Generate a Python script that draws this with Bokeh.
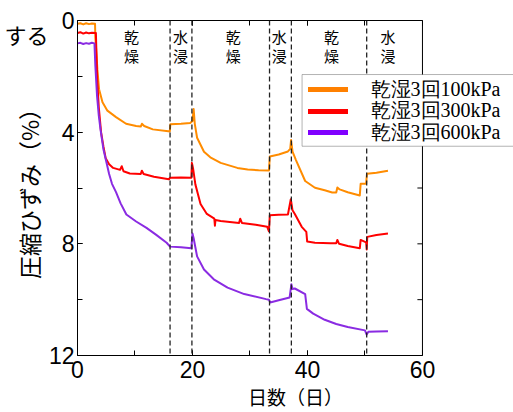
from bokeh.plotting import figure
from bokeh.models import (Range1d, LinearAxis, SingleIntervalTicker, FixedTicker, Span,
                          Legend, LegendItem, CustomJSTickFormatter, BoxAnnotation)
from bokeh.core.properties import value
from bokeh.embed import file_html
from bokeh.resources import INLINE

# ---------------- data ----------------
series_labels = ["乾湿3回100kPa", "乾湿3回300kPa", "乾湿3回600kPa"]

days_100 = [0, 0.5, 1.0, 1.5, 2.0, 2.5, 3.05, 3.1, 3.3, 3.46, 3.75, 4.35, 5.2, 6.7, 8.45,
            10.2, 11.0, 11.2, 11.6, 13.1, 15.8, 16.05, 16.15, 18.0, 19.6, 20.0, 20.2, 20.4,
            20.8, 22.0, 23.1, 24.9, 27.8, 29.6, 31.5, 33.3, 33.45, 35.0, 36.6, 37.0, 37.15,
            37.4, 38.0, 39.6, 41.3, 43.0, 44.3, 45.0, 45.2, 45.6, 47.0, 49.1, 49.25, 50.2,
            50.35, 52.0, 54.0]
strain_100 = [0.12, 0.1, 0.14, 0.1, 0.13, 0.11, 0.12, 0.6, 1.2, 1.76, 2.46, 2.93, 3.23, 3.46,
              3.7, 3.78, 3.8, 3.7, 3.78, 3.9, 3.97, 3.98, 3.72, 3.7, 3.67, 3.6, 3.17, 3.7,
              4.2, 4.7, 4.9, 5.1, 5.28, 5.34, 5.36, 5.37, 4.87, 4.8, 4.69, 4.6, 4.28, 4.7,
              5.0, 5.75, 5.99, 6.08, 6.16, 6.16, 5.98, 6.05, 6.15, 6.27, 5.85, 5.85, 5.49,
              5.45, 5.38]

days_300 = [0, 0.5, 1.0, 1.5, 2.0, 2.5, 3.2, 3.3, 3.45, 3.7, 4.1, 4.5, 4.9, 5.5, 6.2, 7.4,
            7.7, 8.0, 9.1, 11.0, 11.2, 11.5, 13.3, 15.9, 16.1, 18.0, 19.8, 19.9, 20.1, 20.5,
            21.4, 22.5, 23.8, 23.9, 24.0, 24.9, 28.1, 28.3, 28.6, 31.0, 33.0, 33.3, 33.45,
            35.0, 36.6, 37.1, 37.4, 37.8, 39.0, 39.8, 39.95, 41.3, 44.0, 45.0, 45.2, 45.5,
            47.0, 49.1, 49.25, 50.2, 50.3, 50.4, 52.0, 54.0]
strain_300 = [0.45, 0.42, 0.47, 0.43, 0.46, 0.44, 0.45, 1.2, 2.2, 3.1, 4.0, 4.5, 4.93, 5.15,
              5.28, 5.35, 5.22, 5.4, 5.48, 5.5, 5.38, 5.5, 5.6, 5.69, 5.63, 5.62, 5.63, 5.1,
              5.3, 5.87, 6.57, 6.93, 7.1, 7.35, 7.15, 7.18, 7.25, 7.1, 7.25, 7.32, 7.39, 7.55,
              6.98, 6.96, 6.95, 6.4, 6.8, 6.93, 7.39, 7.57, 7.92, 7.96, 7.98, 7.98, 7.86,
              8.0, 8.08, 8.16, 7.86, 7.95, 8.2, 7.75, 7.68, 7.63]

days_600 = [0, 0.5, 1.0, 1.5, 2.0, 2.5, 2.95, 3.1, 3.4, 3.7, 4.0, 4.5, 5.0, 5.5, 6.0, 6.7,
            7.5, 8.5, 10.2, 12.0, 13.7, 15.5, 16.1, 18.0, 19.8, 20.0, 20.2, 20.8, 22.0, 23.7,
            26.1, 29.0, 32.8, 33.3, 33.5, 35.0, 36.9, 37.2, 37.4, 37.8, 39.6, 39.9, 41.0,
            43.0, 45.0, 47.0, 50.0, 50.3, 50.6, 52.0, 54.0]
strain_600 = [0.82, 0.8, 0.84, 0.81, 0.83, 0.8, 0.82, 1.6, 2.7, 3.4, 3.9, 4.6, 5.05, 5.5,
              5.85, 6.15, 6.55, 6.95, 7.2, 7.43, 7.68, 7.96, 8.1, 8.12, 8.16, 7.63, 7.8, 8.45,
              8.92, 9.27, 9.57, 9.8, 9.98, 10.0, 10.1, 10.02, 9.92, 9.45, 9.62, 9.6, 9.8,
              10.33, 10.5, 10.72, 10.87, 10.98, 11.1, 11.25, 11.15, 11.14, 11.13]

phase_boundaries = [16.1, 19.9, 33.4, 37.2, 50.3]
phase_label_x = [9.4, 17.9, 27.1, 35.1, 44.2, 54.0]
phase_top_chars = ["乾", "水", "乾", "水", "乾", "水"]
phase_bottom_chars = ["燥", "浸", "燥", "浸", "燥", "浸"]

x_label = "日数（日）"
y_label = "圧縮ひずみ（%）"
page_fragment = "する"   # piece of the surrounding document text, left of the chart
x_max = 60
y_max = 12
y_tick_values = [2, 4, 6, 8, 10]

line_colors = ["#FF8C00", "#FF0000", "#8A2BE2"]
legend_colors = ["#FF8000", "#FF0000", "#8000FF"]

# ---------------- layout constants (pixels) ----------------
W, H = 513, 412
frame_left, frame_right_axis, frame_top, frame_bottom = 82, 423, 20, 361
left_extra = 5          # the rendered frame sat ~5px right of min_border_left
px_per_day = (frame_right_axis - frame_left) / x_max
px_per_unit = (frame_bottom - frame_top) / y_max
x_end = (W - frame_left) / px_per_day  # frame runs to the window edge (legend is cut there)
tick_len = 5 / px_per_day
fragment_y = (33.5 - frame_top) / px_per_unit
legend_box_left, legend_box_top, legend_box_bottom = 304, 75, 148
legend_item_centers = [95, 116.5, 138]
legend_glyph_left = 312.5
legend_item_h = 30

p = figure(width=W, height=H, output_backend="svg", toolbar_location=None,
           x_range=Range1d(0, x_end), y_range=Range1d(y_max, 0),
           min_border_left=frame_left - left_extra, min_border_right=0,
           min_border_top=frame_top, min_border_bottom=H - frame_bottom)
p.background_fill_color = "white"
p.border_fill_color = "white"
p.outline_line_color = None
p.xgrid.visible = False
p.ygrid.visible = False

tick_font = "Liberation Sans"
cjk_font = "Noto Sans CJK JP"

xa = p.xaxis[0]
xa.ticker = SingleIntervalTicker(interval=20, num_minor_ticks=2)
xa.bounds = (0, x_max)
ya = p.yaxis[0]
ya.ticker = SingleIntervalTicker(interval=4, num_minor_ticks=2)
for ax in (xa, ya):
    ax.axis_line_color = "black"
    ax.major_tick_in = 5
    ax.major_tick_out = 0
    ax.minor_tick_in = 5
    ax.minor_tick_out = 0
    ax.major_tick_line_color = "black"
    ax.minor_tick_line_color = "black"
    ax.major_label_text_font = tick_font
    ax.major_label_text_font_size = "23px"
    ax.major_label_text_color = "black"
xa.major_label_standoff = 5
xa.axis_label = x_label
xa.axis_label_text_font = cjk_font
xa.axis_label_text_font_style = "normal"
xa.axis_label_text_color = "black"
xa.axis_label_text_font_size = "19px"
xa.axis_label_standoff = 2
ya.major_label_standoff = 3

# outer left axis: carries the y title and the page fragment "する"
ya2 = LinearAxis(ticker=FixedTicker(ticks=[fragment_y], minor_ticks=[]),
                 formatter=CustomJSTickFormatter(code="return '%s'" % page_fragment))
ya2.axis_line_color = None
ya2.major_tick_in = 0
ya2.major_tick_out = 0
ya2.minor_tick_in = 0
ya2.minor_tick_out = 0
ya2.major_label_standoff = -3
ya2.major_label_text_font = cjk_font
ya2.major_label_text_font_size = "22px"
ya2.major_label_text_color = "black"
ya2.axis_label = y_label
ya2.axis_label_text_font = cjk_font
ya2.axis_label_text_font_style = "normal"
ya2.axis_label_text_color = "black"
ya2.axis_label_text_font_size = "23px"
ya2.axis_label_standoff = -45
p.add_layout(ya2, "left")

# top border with inward ticks (no labels)
top_ax = LinearAxis(ticker=SingleIntervalTicker(interval=20, num_minor_ticks=2),
                    bounds=(0, x_max),
                    formatter=CustomJSTickFormatter(code="return ''"))
top_ax.axis_line_color = "black"
top_ax.major_tick_in = 5
top_ax.major_tick_out = 0
top_ax.minor_tick_in = 5
top_ax.minor_tick_out = 0
top_ax.major_label_standoff = 0
top_ax.major_label_text_font_size = "10px"
p.add_layout(top_ax, "above")

# right border of the plotting box and its inward ticks
p.add_layout(Span(location=x_max, dimension="height", line_color="black", line_width=1))
p.segment(x0=[x_max - tick_len] * len(y_tick_values), y0=y_tick_values,
          x1=[x_max] * len(y_tick_values), y1=y_tick_values,
          line_color="black", line_width=1)

# phase boundaries
for b in phase_boundaries:
    p.add_layout(Span(location=b, dimension="height", line_color="#222222",
                      line_width=1.3, line_dash="5 3"))

# series lines
all_days = [days_100, days_300, days_600]
all_strain = [strain_100, strain_300, strain_600]
for d, s, c in zip(all_days, all_strain, line_colors):
    p.line(d, s, line_color=c, line_width=2, line_join="round")

# phase labels
p.text(x=phase_label_x, y=[0.59] * len(phase_label_x), text=phase_top_chars,
       text_font=value(cjk_font), text_font_size="15px", text_align="center",
       text_baseline="middle", text_color="black")
p.text(x=phase_label_x, y=[1.27] * len(phase_label_x), text=phase_bottom_chars,
       text_font=value(cjk_font), text_font_size="15px", text_align="center",
       text_baseline="middle", text_color="black")

# legend: opaque box (runs off the right edge like the source) + one entry per series
p.add_layout(BoxAnnotation(left=(legend_box_left - frame_left) / px_per_day,
                           right=x_end * 1.1,
                           top=(legend_box_top - frame_top) / px_per_unit,
                           bottom=(legend_box_bottom - frame_top) / px_per_unit,
                           fill_color="white", fill_alpha=1,
                           line_color="black", line_width=1))
for lab, c, d, s, cy in zip(series_labels, legend_colors, all_days, all_strain,
                            legend_item_centers):
    r = p.line(x=d[:1], y=s[:1], line_color=c, line_width=5, line_cap="round")
    lg = Legend(items=[LegendItem(label=lab, renderers=[r])],
                location=(legend_glyph_left - frame_left,
                          frame_bottom - cy - legend_item_h / 2),
                label_text_font="Liberation Serif",
                label_text_font_size="20px", label_text_color="black",
                label_height=legend_item_h, glyph_height=legend_item_h, glyph_width=40,
                label_standoff=23, padding=0, spacing=0, margin=0,
                border_line_color=None, background_fill_alpha=0)
    p.add_layout(lg, "center")

open("out.html", "w").write(file_html(p, INLINE))
